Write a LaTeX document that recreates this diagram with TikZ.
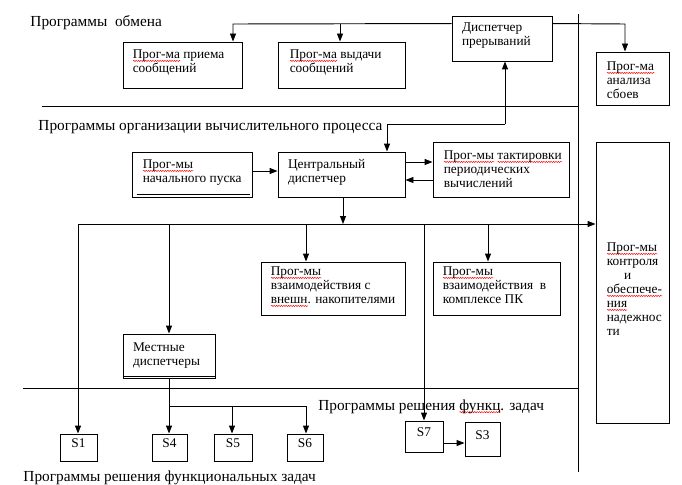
\documentclass[tikz,border=0pt]{standalone}
\usepackage{fontspec}
\setmainfont{Liberation Serif}
\usetikzlibrary{arrows.meta,fit,decorations.pathmorphing}
\newsavebox\wvbox
\newlength\wvlen
\newcommand\wv[1]{\sbox\wvbox{#1}\setlength\wvlen{\wd\wvbox}\rlap{\tikz[baseline=0pt]\draw[red,line width=0.35pt,decorate,decoration={snake,amplitude=0.45pt,segment length=1.8pt}] (0pt,-1.6pt) -- (\wvlen,-1.6pt);}\usebox\wvbox}
\begin{document}
\begin{tikzpicture}[x=0.75pt,y=-0.75pt,line width=0.7pt,
  box/.style={draw,inner sep=0pt},
  btxt/.style={anchor=north west,inner sep=0pt,align=left,font=\rmfamily\fontsize{10}{10.5}\selectfont},
  ttl/.style={anchor=base west,inner sep=0pt,font=\rmfamily\fontsize{11.5}{13}\selectfont},
  arr/.style={-{Triangle[length=6pt,width=4.5pt]}},
  sbox/.style={draw,inner sep=0pt,font=\rmfamily\fontsize{10}{10.5}\selectfont}]
\fill[white] (0,0) rectangle (682,485);
\useasboundingbox (0,0) rectangle (682,485);

% separators
\draw (42,106) -- (578,106);
\draw (23,388) -- (578,388);
\draw (578,14) -- (578,472);

% titles
\node[ttl] (t1) at (30,27) {Программы\ \ обмена};
\node[ttl] (t2) at (38,131) {Программы организации вычислительного процесса};
\node[ttl] (t3) at (318,410) {Программы решения \wv{функц}. задач};
\node[ttl] (t4) at (23,481) {Программы решения функциональных задач};

% boxes
\node[box,fit={(123,42)(242,88)}] (priem) {};
\node[btxt] at ([shift={(10,7.2)}]priem.north west) {\strut\wv{Прог-ма} приема\\сообщений};
\node[box,fit={(278,42)(405,88)}] (vydachi) {};
\node[btxt] at ([shift={(12,7.2)}]vydachi.north west) {\strut\wv{Прог-ма} выдачи\\сообщений};
\node[box,fit={(452,16)(552,61)}] (disp) {};
\node[btxt] at ([shift={(10,6.2)}]disp.north west) {\strut Диспетчер\\прерываний};
\node[box,fit={(596,52)(669,105)}] (analiz) {};
\node[btxt] at ([shift={(11,9.2)}]analiz.north west) {\strut\wv{Прог-ма}\\анализа\\сбоев};

\node[box,fit={(132,152)(252,197)}] (pusk) {};
\draw ([shift={(5,-3)}]pusk.south west) -- ([shift={(-2,-3)}]pusk.south east);
\node[btxt] at ([shift={(11,7.2)}]pusk.north west) {\strut\wv{Прог-мы}\\начального пуска};
\node[box,fit={(278,152)(405,197)}] (central) {};
\node[btxt] at ([shift={(10,6.2)}]central.north west) {\strut Центральный\\диспетчер};
\node[box,fit={(433,142)(569,197)}] (takt) {};
\node[btxt] at ([shift={(11,8.2)}]takt.north west) {\strut\wv{Прог-мы} \wv{тактировки}\\периодических\\вычислений};
\node[box,fit={(596,142)(669,423)}] (control) {};
\node[btxt] at ([shift={(11,100.2)}]control.north west) {\strut\wv{Прог-мы}\\контроля\\\hspace*{13pt}и\\\wv{обеспече-}\\\wv{ния}\\надежнос\\ти};

\node[box,fit={(261,262)(405,315)}] (vneshn) {};
\node[btxt] at ([shift={(10,4.2)}]vneshn.north west) {\strut\wv{Прог-мы}\\взаимодействия с\\\wv{внешн}. накопителями};
\node[box,fit={(433,262)(560,315)}] (pk) {};
\node[btxt] at ([shift={(10,4.2)}]pk.north west) {\strut\wv{Прог-мы}\\взаимодействия\ \ в\\комплексе ПК};
\node[box,fit={(123,334)(215,378)}] (mestn) {};
\draw ([shift={(0,-2)}]mestn.south west) -- ([shift={(0,-2)}]mestn.south east);
\node[btxt] at ([shift={(10,7.2)}]mestn.north west) {\strut Местные\\диспетчеры};

\node[sbox,fit={(60,434)(97,461)}] (s1) {S1};
\node[sbox,fit={(152,434)(187,461)}] (s4) {S4};
\node[sbox,fit={(214,434)(252,461)}] (s5) {S5};
\node[sbox,fit={(287,434)(323,461)}] (s6) {S6};
\node[sbox,fit={(405,421)(443,452)}] (s7) {S7};
\node[sbox,fit={(465,422)(500,456)}] (s3) {};
\node[btxt,anchor=base] (s3t) at (482.5,439) {S3};

% connectors: interrupt dispatcher
\coordinate (dL) at ([shift={(0,8)}]disp.north west);
\coordinate (pA) at (233,24);
\coordinate (vA) at (340,24);
\draw[arr] (dL) -- (pA) -- (pA |- priem.north);
\draw[arr] (vA) -- (vA |- vydachi.north);
\coordinate (dR) at ([shift={(0,8)}]disp.north east);
\coordinate (aA) at (625,24);
\draw[arr] (dR) -- (aA) -- (aA |- analiz.north);
\coordinate (cU) at (505,124);
\coordinate (cL) at (387,124);
\draw[arr] (cU) -- (cU |- disp.south);
\draw[arr] (cU) -- (cL) -- (cL |- central.north);

% central dispatcher
\draw[arr] (pusk.east |- 0,171) -- (central.west |- 0,171);
\draw[arr] (central.east |- 0,162) -- (takt.west |- 0,162);
\draw[arr] (takt.west |- 0,180) -- (central.east |- 0,180);
\coordinate (cB) at (343,224);
\draw[arr] (cB |- central.south) -- (cB);

% bus
\coordinate (b1) at (78,224);
\coordinate (b2) at (169,224);
\coordinate (b3) at (306,224);
\coordinate (b4) at (424,224);
\coordinate (b5) at (488,224);
\draw[arr] (b1) -- (control.west |- b1);
\draw[arr] (b1) -- (b1 |- s1.north);
\draw[arr] (b2) -- (b2 |- mestn.north);
\draw[arr] (b3) -- (b3 |- vneshn.north);
\draw[arr] (b4) -- (b4 |- s7.north);
\draw[arr] (b5) -- (b5 |- pk.north);

% local dispatchers
\coordinate (m1) at (169,406);
\coordinate (m2) at (232,406);
\coordinate (m3) at (306,406);
\draw (m1 |- mestn.south) -- (m1) -- (m3);
\draw[arr] (m1) -- (m1 |- s4.north);
\draw[arr] (m2) -- (m2 |- s5.north);
\draw[arr] (m3) -- (m3 |- s6.north);
\draw[arr] (s7.east |- 0,443) -- (s3.west |- 0,443);
\end{tikzpicture}
\end{document}
